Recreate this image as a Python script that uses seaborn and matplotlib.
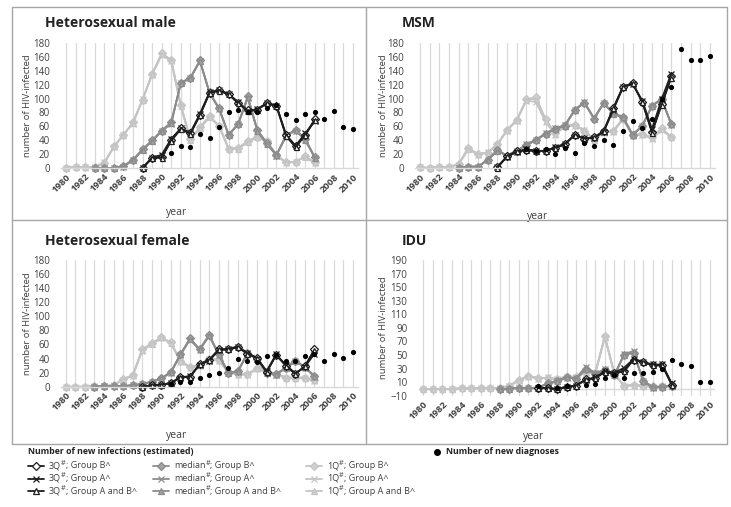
import numpy as np
import pandas as pd
import matplotlib
matplotlib.use('Agg')
import matplotlib.pyplot as plt
import seaborn as sns
from matplotlib.lines import Line2D

# ---- data ----
years_est = list(range(1980, 2007))
years_dx = list(range(1980, 2011))
x_ticks = list(range(1980, 2011, 2))

panel_titles = ['Heterosexual male', 'MSM', 'Heterosexual female', 'IDU']

# heterosexual male
hm_q1_b = [0, 2, 1, 1, 7, 31, 47, 66, 98, 136, 165, 156, 91, 42, 59, 75, 61, 28, 29, 39, 45, 39, 19, 8, 9, 17, 8]
hm_q1_a = [0, 1, 1, 2, 8, 30, 48, 64, 99, 134, 163, 154, 89, 40, 57, 73, 60, 27, 28, 37, 44, 38, 18, 7, 9, 16, 7]
hm_q1_ab = [0, 2, 1, 1, 7, 31, 48, 65, 98, 135, 164, 155, 90, 41, 58, 74, 61, 28, 28, 38, 45, 39, 19, 8, 9, 16, 8]
hm_med_b = [None, None, None, 0, 0, 0, 3, 12, 27, 40, 54, 66, 123, 130, 155, 109, 86, 48, 64, 103, 55, 36, 19, 47, 55, 42, 16]
hm_med_a = [None, None, None, 0, 0, 0, 2, 11, 26, 39, 53, 64, 122, 129, 154, 108, 85, 47, 63, 101, 53, 34, 18, 46, 54, 40, 15]
hm_med_ab = [None, None, None, 0, 0, 0, 3, 11, 26, 39, 53, 65, 122, 130, 154, 108, 86, 48, 63, 102, 54, 35, 19, 46, 55, 41, 15]
hm_q3_b = [None] * 8 + [0, 15, 16, 40, 57, 50, 76, 108, 112, 107, 94, 83, 84, 94, 90, 47, 31, 48, 70]
hm_q3_a = [None] * 8 + [0, 15, 19, 42, 57, 51, 78, 109, 112, 106, 95, 82, 85, 93, 89, 48, 32, 50, 67]
hm_q3_ab = [None] * 8 + [0, 14, 15, 39, 56, 49, 76, 108, 111, 106, 93, 82, 84, 93, 89, 46, 30, 47, 69]
hm_dx = [None] * 11 + [22, 31, 30, 49, 43, 59, 81, 83, 80, 80, 87, 91, 78, 69, 78, 80, 70, 82, 59, 56]

# MSM
msm_q1_b = [1, 0, 2, 1, 6, 29, 20, 22, 34, 55, 69, 99, 102, 70, 50, 62, 62, 53, 42, 53, 54, 71, 47, 49, 44, 57, 45]
msm_q1_a = [1, 0, 2, 1, 5, 27, 19, 23, 33, 54, 68, 97, 95, 66, 48, 60, 61, 55, 40, 51, 52, 70, 46, 48, 42, 55, 44]
msm_q1_ab = [1, 0, 2, 1, 6, 28, 20, 22, 34, 55, 69, 98, 100, 68, 49, 61, 62, 54, 41, 52, 53, 71, 47, 49, 43, 56, 45]
msm_med_b = [None] * 4 + [0, 2, 2, 12, 26, 18, 25, 33, 40, 49, 56, 61, 83, 94, 71, 93, 79, 74, 48, 61, 89, 99, 64]
msm_med_a = [None] * 4 + [0, 2, 2, 11, 25, 17, 24, 34, 41, 50, 57, 62, 84, 95, 72, 94, 78, 72, 47, 60, 90, 100, 62]
msm_med_ab = [None] * 4 + [0, 2, 2, 12, 25, 18, 25, 33, 40, 49, 56, 61, 83, 94, 71, 93, 78, 73, 48, 61, 89, 99, 63]
msm_q3_b = [None] * 8 + [1, 17, 24, 26, 24, 25, 29, 34, 48, 42, 44, 53, 86, 117, 122, 95, 52, 92, 132]
msm_q3_a = [None] * 8 + [2, 16, 23, 27, 25, 24, 30, 35, 47, 43, 43, 52, 84, 116, 121, 97, 56, 99, 136]
msm_q3_ab = [None] * 8 + [0, 17, 24, 26, 24, 25, 29, 34, 48, 42, 44, 53, 86, 117, 122, 95, 51, 91, 130]
msm_dx = [None] * 11 + [27, 25, 27, 20, 29, 22, 36, 31, 41, 33, 53, 68, 57, 70, 100, 116, 172, 155, 156, 161]

# heterosexual female
hf_q1_b = [0, 0, 0, 1, 1, 2, 11, 16, 53, 62, 70, 63, 37, 28, 31, 40, 38, 21, 18, 18, 26, 21, 18, 13, 13, 13, 9]
hf_q1_a = [0, 0, 0, 1, 1, 2, 10, 15, 51, 60, 69, 62, 35, 27, 30, 39, 37, 20, 17, 17, 25, 20, 17, 12, 12, 12, 8]
hf_q1_ab = [0, 0, 0, 1, 1, 2, 11, 16, 52, 61, 70, 62, 36, 28, 31, 40, 38, 21, 18, 18, 26, 21, 18, 13, 13, 13, 9]
hf_med_b = [None] * 3 + [0, 1, 1, 1, 2, 4, 7, 12, 21, 46, 69, 53, 74, 46, 20, 22, 48, 40, 20, 18, 27, 37, 28, 15]
hf_med_a = [None] * 3 + [0, 1, 1, 1, 2, 4, 7, 11, 20, 45, 67, 52, 72, 45, 19, 21, 47, 39, 19, 17, 26, 36, 27, 14]
hf_med_ab = [None] * 3 + [0, 1, 1, 1, 2, 4, 7, 12, 21, 46, 68, 53, 73, 46, 20, 22, 48, 40, 20, 18, 27, 37, 28, 15]
hf_q3_b = [None] * 8 + [0, 2, 3, 5, 14, 14, 32, 38, 53, 53, 56, 47, 41, 21, 45, 30, 18, 29, 53]
hf_q3_a = [None] * 8 + [0, 2, 3, 5, 13, 15, 31, 37, 52, 54, 57, 48, 40, 22, 46, 31, 19, 28, 47]
hf_q3_ab = [None] * 8 + [0, 2, 3, 5, 14, 14, 32, 38, 53, 53, 56, 47, 41, 21, 45, 30, 18, 29, 52]
hf_dx = [None] * 11 + [4, 7, 7, 13, 17, 20, 27, 39, 37, 35, 44, 45, 37, 36, 44, 46, 37, 47, 41, 49]

# IDU
idu_q1_b = [0, 0, 0, 0, 1, 1, 1, 2, 1, 5, 13, 19, 16, 16, 15, 18, 18, 25, 24, 78, 22, 5, 6, 5, 4, 4, 5]
idu_q1_a = [0, 0, 0, 0, 1, 1, 1, 2, 1, 4, 12, 18, 15, 17, 14, 17, 17, 24, 23, 76, 21, 4, 5, 4, 3, 4, 4]
idu_q1_ab = [0, 0, 0, 0, 1, 1, 1, 2, 1, 5, 13, 19, 16, 16, 15, 18, 18, 25, 24, 77, 22, 5, 6, 5, 4, 4, 5]
idu_med_b = [None] * 8 + [0, 0, 2, 1, 2, 8, 12, 17, 15, 29, 22, 28, 20, 50, 53, 12, 3, 3, 5]
idu_med_a = [None] * 8 + [0, 0, 2, 1, 2, 7, 11, 16, 16, 33, 23, 29, 21, 51, 56, 11, 2, 3, 4]
idu_med_ab = [None] * 8 + [0, 0, 2, 1, 2, 8, 12, 17, 15, 29, 22, 28, 20, 50, 54, 12, 3, 3, 5]
idu_q3_b = [None] * 12 + [2, 1, 0, 3, 5, 14, 16, 25, 23, 26, 43, 39, 35, 35, 6]
idu_q3_a = [None] * 12 + [2, 1, 0, 3, 5, 13, 17, 26, 24, 31, 44, 40, 36, 36, 8]
idu_q3_ab = [None] * 12 + [2, 1, 0, 3, 5, 14, 16, 25, 23, 26, 43, 39, 35, 35, 6]
idu_dx = [None] * 12 + [4, None, 2, 5, None, 6, 7, 16, 21, 16, 24, 24, 25, 30, 43, 37, 34, 10, 10]

panels = [
    (hm_q1_b, hm_q1_a, hm_q1_ab, hm_med_b, hm_med_a, hm_med_ab, hm_q3_b, hm_q3_a, hm_q3_ab, hm_dx),
    (msm_q1_b, msm_q1_a, msm_q1_ab, msm_med_b, msm_med_a, msm_med_ab, msm_q3_b, msm_q3_a, msm_q3_ab, msm_dx),
    (hf_q1_b, hf_q1_a, hf_q1_ab, hf_med_b, hf_med_a, hf_med_ab, hf_q3_b, hf_q3_a, hf_q3_ab, hf_dx),
    (idu_q1_b, idu_q1_a, idu_q1_ab, idu_med_b, idu_med_a, idu_med_ab, idu_q3_b, idu_q3_a, idu_q3_ab, idu_dx),
]

# ---- style ----
sns.set_theme(style='white')
plt.rcParams['font.family'] = ['Open Sans', 'DejaVu Sans']

W, H = 731, 507
fig = plt.figure(figsize=(W / 100, H / 100), dpi=100)
fig.patch.set_facecolor('white')

def fx(px):
    return px / W

def fy(py):
    return 1 - py / H

c_q3, c_med, c_q1 = '#1e1e1e', '#8c8c8c', '#c4c4c4'
f_med, f_q1 = '#a2a2a2', '#d0d0d0'
grid_c = '#d9d9d9'
txt_c = '#404040'

# style per series: (line colour, marker, face colour)
styles = [
    (c_q1, 'D', f_q1), (c_q1, 'x', f_q1), (c_q1, '^', f_q1),
    (c_med, 'D', f_med), (c_med, 'x', f_med), (c_med, '^', f_med),
    (c_q3, 'D', 'white'), (c_q3, 'x', 'white'), (c_q3, '^', 'white'),
]

# axes rectangles in pixels: left, top, right, bottom
rects = [
    (61.2, 43.0, 357.8, 168.0),
    (415.2, 43.0, 714.8, 168.0),
    (60.9, 260.0, 357.5, 386.7),
    (418.5, 260.0, 714.8, 395.7),
]
title_pos = [(45, 23), (402, 23), (45, 241), (402, 241)]
ylabel_x = [32, 388, 32, 388]
xlabel_pos = [(0.39, -0.31), (0.41, -0.34), (0.39, -0.34), (0.39, -0.26)]

axes = []
for i, (title, data) in enumerate(zip(panel_titles, panels)):
    l, t, r, b = rects[i]
    ax = fig.add_axes([fx(l), fy(b), fx(r - l), (b - t) / H])
    ax.set_facecolor('white')
    axes.append(ax)

    for vals, (col, mk, fc) in zip(data[:9], styles):
        y = pd.Series(vals, dtype=float)
        ms = 4.5 if mk == 'x' else 3.6
        sns.lineplot(x=years_est, y=y, ax=ax, color=col, lw=1.3, marker=mk, markersize=ms,
                     markerfacecolor=fc, markeredgecolor=col, markeredgewidth=0.9,
                     estimator=None, errorbar=None, clip_on=False)
    dx = pd.Series(data[9], dtype=float)
    sns.scatterplot(x=years_dx, y=dx, ax=ax, color='black', s=14, edgecolor='black',
                    linewidth=0, zorder=5, clip_on=False)

    ax.set_xlim(1979.5, 2010.5)
    if title == 'IDU':
        ax.set_ylim(-10, 190)
        ax.set_yticks(range(-10, 191, 20))
        ax.axhline(0, color=grid_c, lw=1, zorder=0)
    else:
        ax.set_ylim(0, 180)
        ax.set_yticks(range(0, 181, 20))
    ax.set_xticks(x_ticks)
    ax.set_xticks(years_dx, minor=True)
    ax.set_xticklabels([str(v) for v in x_ticks], rotation=45, ha='right',
                       rotation_mode='anchor', fontsize=6.8, fontweight='bold', color=txt_c)
    ax.tick_params(axis='y', labelsize=7, labelcolor=txt_c, length=0, pad=8)
    ax.tick_params(axis='x', which='both', length=0, pad=3)
    ax.grid(axis='x', which='both', color=grid_c, lw=0.9, zorder=0)
    ax.grid(axis='y', visible=False)
    ax.set_axisbelow(True)
    for s in ['top', 'right', 'left']:
        ax.spines[s].set_visible(False)
    if title == 'IDU':
        ax.spines['bottom'].set_visible(False)
    else:
        ax.spines['bottom'].set_color(grid_c)
        ax.spines['bottom'].set_linewidth(1)

    ax.set_ylabel('number of HIV-infected', fontsize=6.8, color=txt_c)
    ax.yaxis.set_label_coords((ylabel_x[i] - l) / (r - l), 0.5)
    ax.set_xlabel('year', fontsize=7.5, color=txt_c)
    ax.xaxis.set_label_coords(*xlabel_pos[i])

    tx, ty = title_pos[i]
    fig.text(fx(tx), fy(ty), title, fontsize=10, fontweight='bold', color='#222222',
             ha='left', va='center')

# panel frames
frame_c = '#a6a6a6'
for (x0, y0, x1, y1) in [(12, 7, 727, 7), (12, 444, 727, 444), (12, 220, 727, 220),
                         (12, 7, 12, 444), (366, 7, 366, 444), (727, 7, 727, 444)]:
    fig.add_artist(Line2D([fx(x0), fx(x1)], [fy(y0), fy(y1)], color=frame_c, lw=1))

# legend
fig.text(fx(28), fy(452), 'Number of new infections (estimated)', fontsize=6.3, fontweight='bold',
         color='#222222', va='center')
leg_cols = [(28, c_q3, 'white', '3Q'), (153, c_med, f_med, 'median'), (306, c_q1, f_q1, '1Q')]
leg_groups = [('D', 'Group B^'), ('x', 'Group A^'), ('^', 'Group A and B^')]
ax0 = axes[0]
for x0, col, fc, q in leg_cols:
    for j, (mk, g) in enumerate(leg_groups):
        yy = 466 + j * 12.5
        fig.add_artist(Line2D([fx(x0), fx(x0 + 16)], [fy(yy), fy(yy)], color=col, lw=1.3))
        fig.add_artist(Line2D([fx(x0 + 8)], [fy(yy)], color=col, marker=mk, markersize=4 if mk != 'x' else 4.5,
                              markerfacecolor=fc, markeredgecolor=col, markeredgewidth=0.9))
        t1 = fig.text(fx(x0 + 21), fy(yy), q, fontsize=6.5, color=txt_c, va='center')
        t2 = ax0.annotate('#', xy=(1, 0.4), xycoords=t1, fontsize=5.2, color=txt_c,
                          ha='left', va='bottom', annotation_clip=False)
        ax0.annotate('; ' + g, xy=(1, 0.5), xycoords=(t2, t1), fontsize=6.5, color=txt_c,
                     ha='left', va='center', annotation_clip=False)
fig.add_artist(Line2D([fx(437)], [fy(452)], marker='o', color='black', markersize=4, lw=0))
fig.text(fx(446), fy(452), 'Number of new diagnoses', fontsize=6.3, fontweight='bold',
         color='#222222', va='center')

fig.savefig('out.png', dpi=100, facecolor='white')
